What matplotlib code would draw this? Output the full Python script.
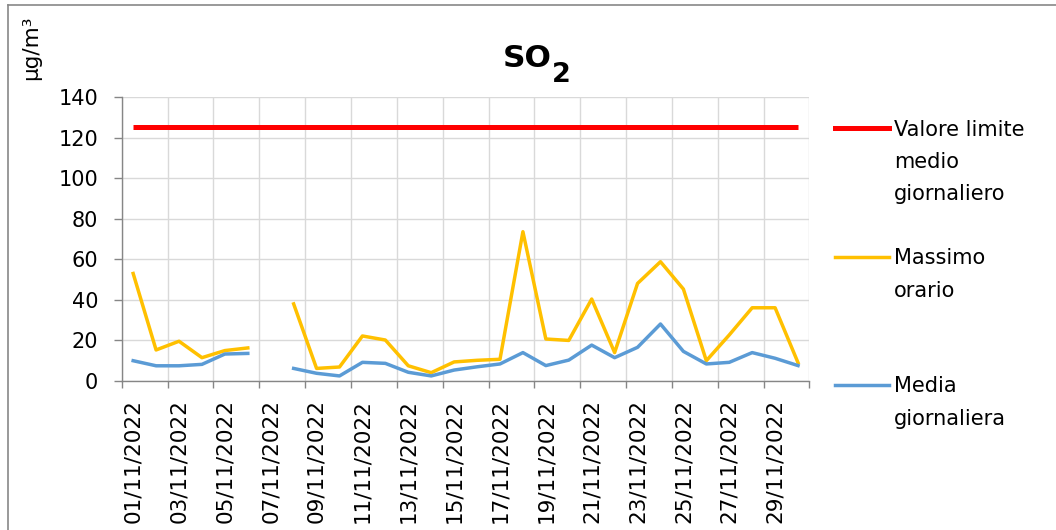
import numpy as np
import matplotlib.pyplot as plt
from matplotlib.lines import Line2D

plt.rcParams['font.family'] = 'DejaVu Sans'
plt.rcParams['font.size'] = 15

# %%
""" Data: SO2, November 2022 """
days = np.arange(1, 31)
day_labels = ['{:02d}/11/2022'.format(d) for d in days]

limit_value = 125  # valore limite medio giornaliero

max_hourly = [53, 15.3, 19.6, 11.5, 15, 16.3, np.nan, 38, 6.2, 6.9,
              22.2, 20.2, 7.5, 4.1, 9.4, 10.2, 10.7, 73.6, 20.7, 20,
              40.4, 14, 48.1, 58.8, 45.3, 10, 22.7, 36.1, 36.1, 9]

daily_mean = [10, 7.5, 7.5, 8.2, 13.3, 13.6, np.nan, 6.2, 3.8, 2.5,
              9.2, 8.7, 4.3, 2.5, 5.4, 7, 8.4, 14, 7.6, 10.3,
              17.7, 11.5, 16.6, 28.1, 14.6, 8.4, 9.2, 14, 11.2, 7.6]

series_names = ['Valore limite\nmedio\ngiornaliero', 'Massimo\norario', 'Media\ngiornaliera']
series_colors = ['#FF0000', '#FFC000', '#5B9BD5']

# %%
""" Plotting """
W, H = 1056, 530
fig = plt.figure(figsize=(W / 100, H / 100), dpi=100)
ax = fig.add_axes([121.7 / W, 1 - 381 / H, 687.8 / W, 284 / H])

ax.plot(days, [limit_value] * len(days), color=series_colors[0], lw=3.6, solid_capstyle='butt')
ax.plot(days, max_hourly, color=series_colors[1], lw=2.5)
ax.plot(days, daily_mean, color=series_colors[2], lw=2.5)

ax.set_xlim(0.5, 30.5)
ax.set_ylim(0, 140)
ax.set_yticks(np.arange(0, 141, 20))

# tick marks between categories, labels on odd days
ax.set_xticks(np.arange(0.5, 31, 2))
ax.set_xticklabels([])
ax.set_xticks(days[::2], minor=True)
ax.set_xticklabels(day_labels[::2], minor=True, rotation=90, fontsize=15.5,
                   va='top', ha='center')
ax.tick_params(axis='x', which='major', length=5, width=1, color='#868686')
ax.tick_params(axis='x', which='minor', length=0, pad=13)
ax.tick_params(axis='y', length=6, width=1, color='#868686', pad=11)

ax.grid(True, which='major', color='#D9D9D9', lw=1)
ax.set_axisbelow(True)
for s in ['top', 'right']:
    ax.spines[s].set_visible(False)
for s in ['left', 'bottom']:
    ax.spines[s].set_color('#868686')
    ax.spines[s].set_linewidth(1)

# title with subscript
fig.text(503 / W, 1 - 67 / H, 'SO', fontsize=22.5, fontweight='bold', ha='left', va='baseline')
fig.text(552 / W, 1 - 81.5 / H, '2', fontsize=19.5, fontweight='bold', ha='left', va='baseline')

fig.text(31 / W, 1 - 48 / H, 'µg/m³', rotation=90, ha='center', va='center', fontsize=15.5)

# legend on the right
legend_y = [128, 257, 385]
for name, col, y0 in zip(series_names, series_colors, legend_y):
    fig.add_artist(Line2D([835 / W, 889 / W], [1 - y0 / H] * 2, color=col,
                          lw=3.6 if col == '#FF0000' else 2.5, transform=fig.transFigure))
    for k, line in enumerate(name.split('\n')):
        fig.text(894 / W, 1 - (y0 + 7.5 + 32.5 * k) / H, line, ha='left', va='baseline', fontsize=15)

# chart border
fig.add_artist(Line2D([8 / W, 1], [1 - 5 / H] * 2, color='#888888', lw=1.2, transform=fig.transFigure))
fig.add_artist(Line2D([8 / W] * 2, [0, 1 - 5 / H], color='#888888', lw=1.2, transform=fig.transFigure))

fig.savefig('out.png', dpi=100)
